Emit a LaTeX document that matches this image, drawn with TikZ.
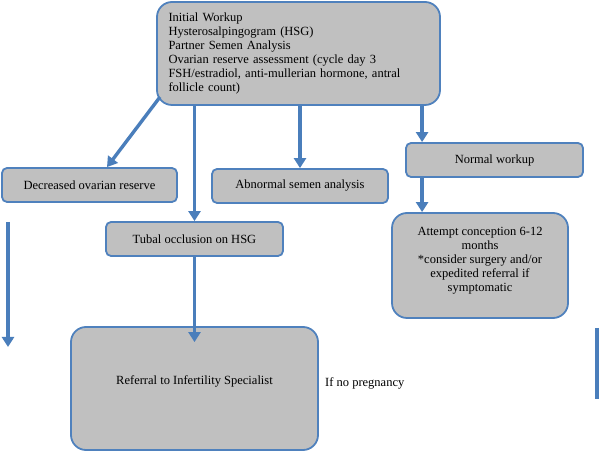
\documentclass[tikz,border=0pt]{standalone}
\usepackage{fontspec}
\setmainfont{Liberation Serif}
\usetikzlibrary{arrows.meta}
\definecolor{boxblue}{HTML}{4F81BD}
\definecolor{boxgray}{HTML}{C0C0C0}
\definecolor{arrowblue}{HTML}{4A7EBB}

\begin{document}
\begin{tikzpicture}[x=1pt, y=1pt,
    font=\fontsize{12.5}{14}\selectfont,
    box/.style={draw=boxblue, fill=boxgray, line width=1.8pt, rounded corners=5pt, inner sep=0pt, align=center},
    bigbox/.style={box, rounded corners=15pt},
    arr/.style={draw=arrowblue, line width=3.4pt, -{Triangle[width=12pt, length=10pt]}}]
    \useasboundingbox (0, 0) rectangle (600, 452);

    \node[bigbox, minimum width=283pt, minimum height=103pt, text width=260pt, align=left] (wk) at (298.5, 398.5) {Initial Workup\\ Hysterosalpingogram (HSG)\\ Partner Semen Analysis\\ Ovarian reserve assessment (cycle day 3\\ FSH/estradiol, anti-mullerian hormone, antral\\ follicle count)};

    \node[box, minimum width=175pt, minimum height=34pt] (dor) at (89.5, 267) {Decreased ovarian reserve};
    \node[box, minimum width=176pt, minimum height=34pt] (asa) at (300, 266) {Abnormal semen analysis};
    \node[box, minimum width=177pt, minimum height=34pt] (tub) at (194.5, 213) {Tubal occlusion on HSG};
    \node[box, minimum width=177pt, minimum height=34pt] (nw) at (494.5, 292) {Normal workup};
    \node[bigbox, minimum width=176pt, minimum height=105pt] (att) at (480, 186.5) {Attempt conception 6-12\\ months\\ *consider surgery and/or\\ expedited referral if\\ symptomatic\\[-2pt]\mbox{}};
    \node[bigbox, minimum width=247pt, minimum height=123pt] (ref) at (194.5, 63.5) {Referral to Infertility Specialist\\[3pt]\mbox{}};
    \node[anchor=west, inner sep=0pt] (nopreg) at (325, 69) {If no pregnancy};

    \coordinate (dtop) at (160, 355);
    \coordinate (ltop) at (8, 230);
    \coordinate (lbot) at (8, 105);
    \coordinate (rtop) at (597, 124);
    \coordinate (rbot) at (597, 53);

    \draw[arr] (dtop) -- ([xshift=17.5pt]dor.north);
    \draw[arr] (wk.south -| tub.north) -- (tub.north);
    \draw[arr] (wk.south -| asa.north) -- (asa.north);
    \draw[arr] ([xshift=17pt]nw.north west |- wk.south) -- ([xshift=17pt]nw.north west);
    \draw[arr] ([xshift=17pt]nw.south west) -- ([xshift=17pt]nw.south west |- att.north);
    \draw[arr] (tub.south) -- ([yshift=-16pt]ref.north);
    \draw[arr] (ltop) -- (lbot);
    \draw[draw=arrowblue, line width=3.5pt] (rtop) -- (rbot);

\end{tikzpicture}
\end{document}
